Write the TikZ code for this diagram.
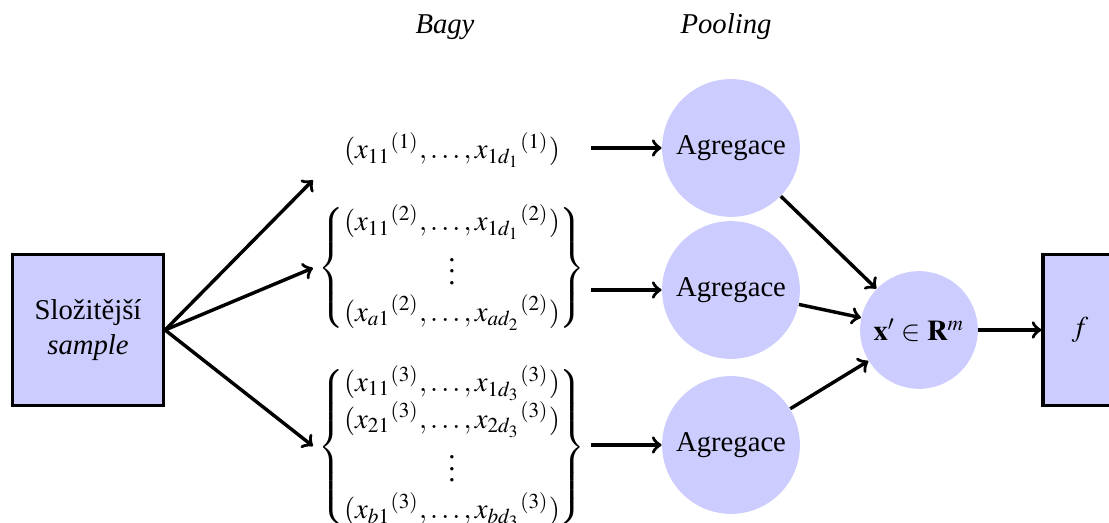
\documentclass[tikz,border=0pt]{standalone}
\usepackage{mathptmx}
\usepackage{fontspec}
\setmainfont{Liberation Serif}
\usepackage{tikz}

\tikzset{
  box/.style={draw=black, line width=1.1pt, fill=blue!20, inner sep=2pt},
  pool/.style={circle, fill=blue!20, inner sep=1pt},
  bag/.style={minimum width=96.5pt, inner sep=0pt},
  arr/.style={->, line width=1.2pt}
}

\begin{document}
\begin{tikzpicture}[x=0.3484pt, y=-0.3484pt]
\useasboundingbox (0,0) rectangle (1109,523);

\node at (445,27) {\textit{Bagy}};
\node at (726,27) {\textit{Pooling}};

\node[box, minimum size=52.6pt, align=center] (sample) at (88,330) {Složitější\\\textit{sample}};

\node[bag] (bag1) at (452,150) {$({x_{11}}^{(1)}, \ldots, {x_{1d_1}}^{(1)})$};
\node[bag] (bag2) at (452,268) {$\left\{\begin{array}{@{}c@{}}
  ({x_{11}}^{(2)}, \ldots, {x_{1d_1}}^{(2)})\\
  \vdots\\
  ({x_{a1}}^{(2)}, \ldots, {x_{ad_2}}^{(2)})
  \end{array}\right\}$};
\node[bag] (bag3) at (452,447) {$\left\{\begin{array}{@{}c@{}}
  ({x_{11}}^{(3)}, \ldots, {x_{1d_3}}^{(3)})\\
  ({x_{21}}^{(3)}, \ldots, {x_{2d_3}}^{(3)})\\
  \vdots\\
  ({x_{b1}}^{(3)}, \ldots, {x_{bd_3}}^{(3)})
  \end{array}\right\}$};

\node[pool, minimum size=48pt] (agg1) at (731,148) {Agregace};
\node[pool, minimum size=48pt] (agg2) at (731,290) {Agregace};
\node[pool, minimum size=48pt] (agg3) at (731,445) {Agregace};

\node[pool, minimum size=41pt] (xvec) at (919,330) {$\mathbf{x}' \in \mathbf{R}^m$};

\node[box, minimum height=52.6pt, minimum width=25.8pt] (f) at (1080,330) {$f$};

% sample -> bagy
\draw[arr] (sample.east) -- ([yshift=-10.5pt]bag1.west);
\draw[arr] (sample.east) -- (bag2.west);
\draw[arr] (sample.east) -- ([yshift=0.3pt]bag3.west);

% bagy -> agregace
\draw[arr] (bag1.east |- agg1.west) -- (agg1.west);
\draw[arr] (bag2.east |- agg2.west) -- (agg2.west);
\draw[arr] (bag3.east |- agg3.west) -- (agg3.west);

% agregace -> x'
\draw[arr] (agg1) -- (xvec);
\draw[arr] (agg2) -- (xvec);
\draw[arr] (agg3) -- (xvec);
\draw[arr] (xvec) -- (f);
\end{tikzpicture}
\end{document}
